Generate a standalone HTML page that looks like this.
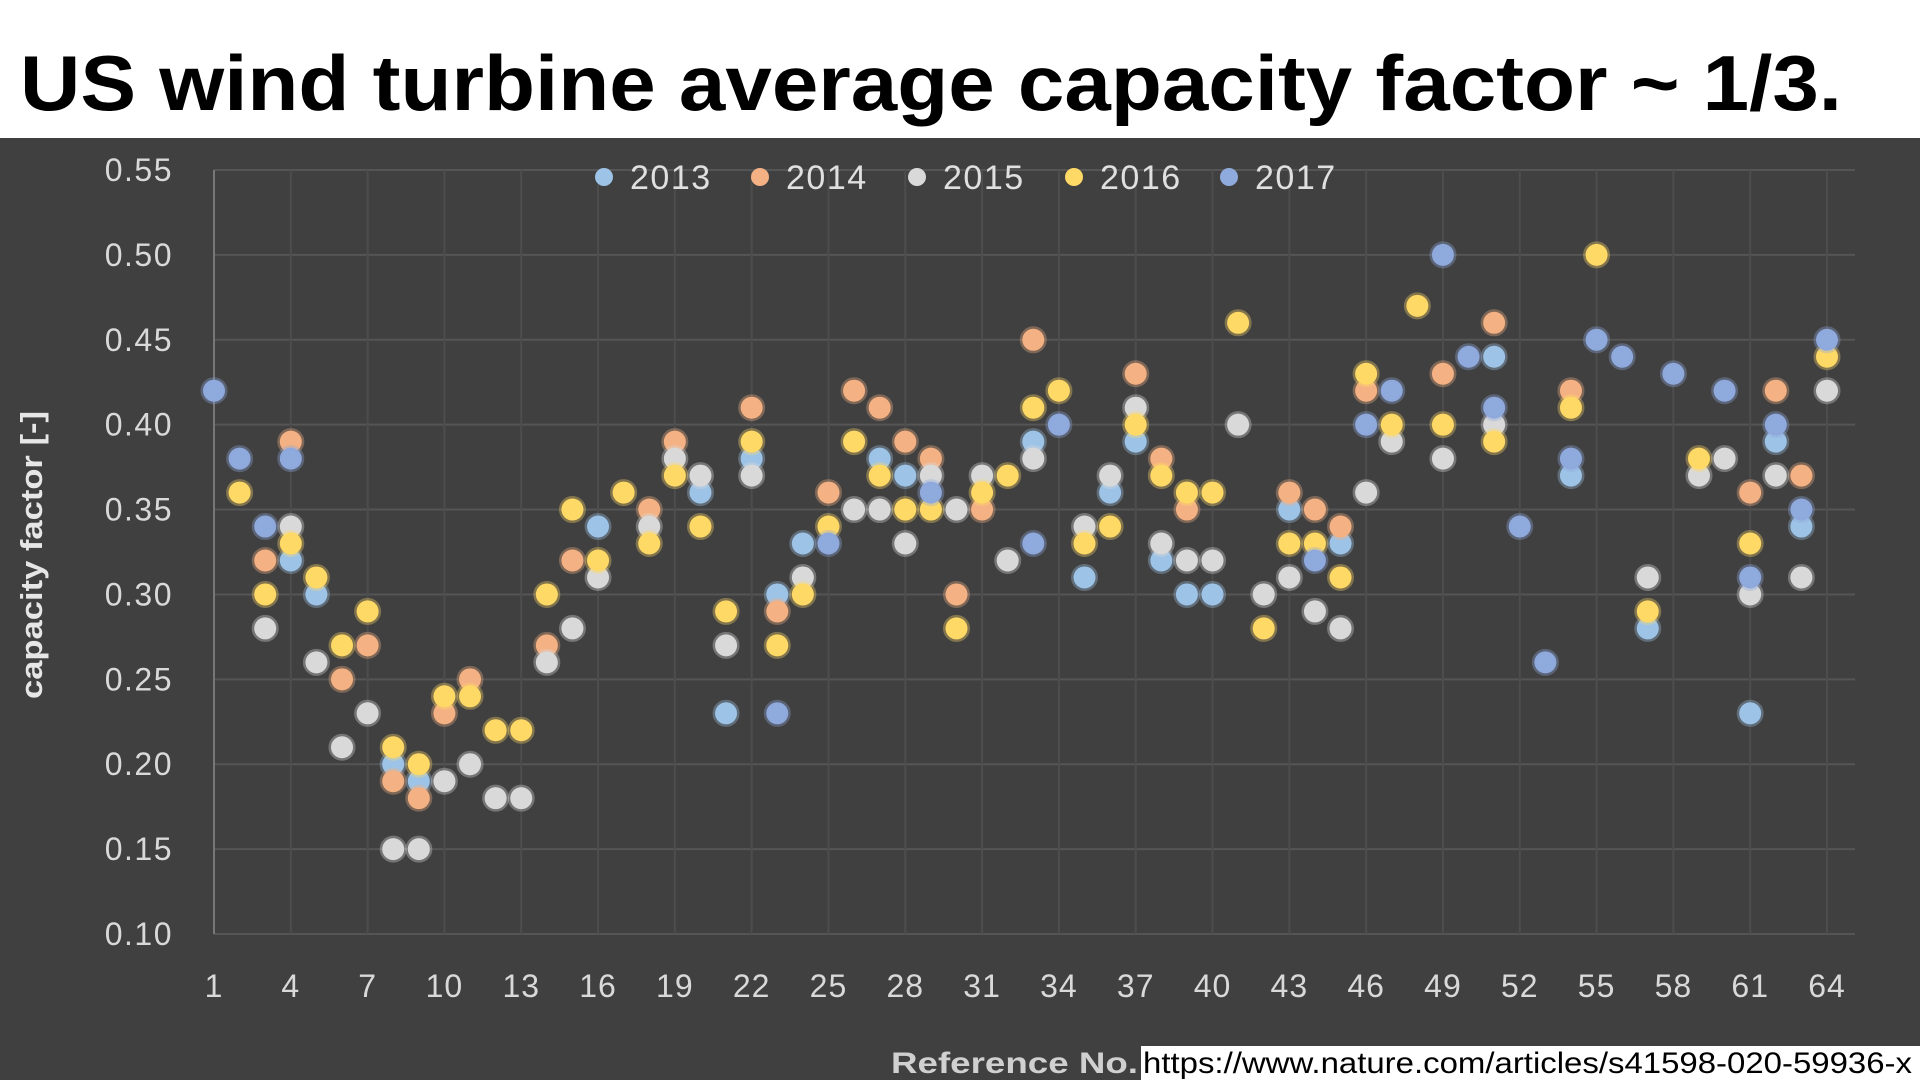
<!DOCTYPE html>
<html><head><meta charset="utf-8"><style>
html,body{margin:0;padding:0;background:#fff;width:1920px;height:1080px;overflow:hidden}
svg{display:block}
</style></head><body>
<svg id="chart" width="1920" height="1080" xmlns="http://www.w3.org/2000/svg">
<text x="20" y="110" textLength="1822" lengthAdjust="spacingAndGlyphs" font-family="Liberation Sans, sans-serif" font-weight="bold" font-size="78" fill="#000">US wind turbine average capacity factor ~ 1/3.</text>
<rect x="0" y="138" width="1920" height="942" fill="#404040"/>
<g id="grid"></g>
<g id="axes"></g>
<g id="marks"></g>
<g id="legend"></g>
<text transform="translate(42,555) rotate(-90)" text-anchor="middle" textLength="288" lengthAdjust="spacingAndGlyphs" font-family="Liberation Sans, sans-serif" font-weight="bold" font-size="31" fill="#e6e6e6">capacity factor [-]</text>
<text x="891" y="1073" textLength="247" lengthAdjust="spacingAndGlyphs" font-family="Liberation Sans, sans-serif" font-weight="bold" font-size="30" fill="#d0d0d0">Reference No.</text>
<rect x="1141" y="1046" width="779" height="34" fill="#fff"/>
<text x="1143" y="1073" textLength="769" lengthAdjust="spacingAndGlyphs" font-family="Liberation Sans, sans-serif" font-size="30" fill="#000">https://www.nature.com/articles/s41598-020-59936-x</text>
</svg>
<script>
const years = ['2013','2014','2015','2016','2017'];
const colors = ['#9dc3e6','#f4b183','#d9d9d9','#ffd966','#8faadc'];
const yTicks = [0.10,0.15,0.20,0.25,0.30,0.35,0.40,0.45,0.50,0.55];
const xTicks = [1,4,7,10,13,16,19,22,25,28,31,34,37,40,43,46,49,52,55,58,61,64];
// index = reference no. 1..64, null = missing
const s2013 = [null,null,null,.32,.30,null,null,.20,.19,null,null,null,null,null,null,.34,null,null,null,.36,.23,.38,.30,.33,null,null,.38,.37,null,null,null,null,.39,null,.31,.36,.39,.32,.30,.30,null,null,.35,null,.33,null,null,null,null,null,.44,null,null,.37,null,null,.28,null,null,null,.23,.39,.34,null];
const s2014 = [null,null,.32,.39,null,.25,.27,.19,.18,.23,.25,null,null,.27,.32,null,null,.35,.39,null,null,.41,.29,null,.36,.42,.41,.39,.38,.30,.35,null,.45,null,null,null,.43,.38,.35,null,null,null,.36,.35,.34,.42,null,null,.43,null,.46,null,null,.42,null,null,null,null,null,null,.36,.42,.37,null];
const s2015 = [null,null,.28,.34,.26,.21,.23,.15,.15,.19,.20,.18,.18,.26,.28,.31,null,.34,.38,.37,.27,.37,null,.31,null,.35,.35,.33,.37,.35,.37,.32,.38,null,.34,.37,.41,.33,.32,.32,.40,.30,.31,.29,.28,.36,.39,null,.38,null,.40,null,null,null,null,null,.31,null,.37,.38,.30,.37,.31,.42];
const s2016 = [null,.36,.30,.33,.31,.27,.29,.21,.20,.24,.24,.22,.22,.30,.35,.32,.36,.33,.37,.34,.29,.39,.27,.30,.34,.39,.37,.35,.35,.28,.36,.37,.41,.42,.33,.34,.40,.37,.36,.36,.46,.28,.33,.33,.31,.43,.40,.47,.40,null,.39,null,null,.41,.50,null,.29,null,.38,null,.33,null,null,.44];
const s2017 = [.42,.38,.34,.38,null,null,null,null,null,null,null,null,null,null,null,null,null,null,null,null,null,null,.23,null,.33,null,null,null,.36,null,null,null,.33,.40,null,null,null,null,null,null,null,null,null,.32,null,.40,.42,null,.50,.44,.41,.34,.26,.38,.45,.44,null,.43,null,.42,.31,.40,.35,.45];
const series = [s2013,s2014,s2015,s2016,s2017];

const NS='http://www.w3.org/2000/svg';
const X0=214, X1=1827, Y0=934, Y1=170;
function xScale(n){return X0+(n-1)*(X1-X0)/63;}
function yScale(v){return Y0-(v-0.10)*(Y0-Y1)/0.45;}
function mk(tag,attrs,parent){const e=document.createElementNS(NS,tag);for(const k in attrs)e.setAttribute(k,attrs[k]);parent.appendChild(e);return e;}
const grid=document.getElementById('grid'),axes=document.getElementById('axes'),marks=document.getElementById('marks'),legend=document.getElementById('legend');
yTicks.forEach(t=>{
  const y=yScale(t);
  const l=mk('line',{x1:X0,x2:1855,y1:y,y2:y,stroke:'#555',"stroke-width":2},grid);
  
  
  const tx=mk('text',{x:173,y:y+11,"text-anchor":"end","font-family":"Liberation Sans, sans-serif","font-size":"32","letter-spacing":"1.5",fill:"#d9d9d9"},axes);
  tx.textContent=t.toFixed(2);
  
  
});
for(let n=1;n<=64;n+=3){
  const x=xScale(n);
  const l=mk('line',{x1:x,x2:x,y1:Y1,y2:Y0,stroke:'#4d4d4d',"stroke-width":2},grid);
  
  
}
const ax=mk('line',{x1:X0,x2:X0,y1:Y1,y2:Y0,stroke:'#777',"stroke-width":2},axes);


xTicks.forEach(n=>{
  const tx=mk('text',{x:xScale(n),y:997,"text-anchor":"middle","font-family":"Liberation Sans, sans-serif","font-size":"32","letter-spacing":"1",fill:"#d9d9d9"},axes);
  tx.textContent=n;
  
  
});
series.forEach((arr,si)=>{
  arr.forEach((v,i)=>{
    if(v===null)return;
    const c=mk('circle',{cx:xScale(i+1),cy:yScale(v),r:11,fill:colors[si],stroke:colors[si],"stroke-opacity":0.35,"stroke-width":5},marks);
    
    
  });
});
const legX=[604,760,917,1074,1229];
years.forEach((yr,i)=>{
  const g=mk('g',{},legend);
  
  
  mk('circle',{cx:legX[i],cy:177,r:9,fill:colors[i]},g);
  const t=mk('text',{x:legX[i]+26,y:189,"font-family":"Liberation Sans, sans-serif","font-size":"34","letter-spacing":"1.5",fill:"#e0e0e0"},g);
  t.textContent=yr;
});
</script>
</body></html>
